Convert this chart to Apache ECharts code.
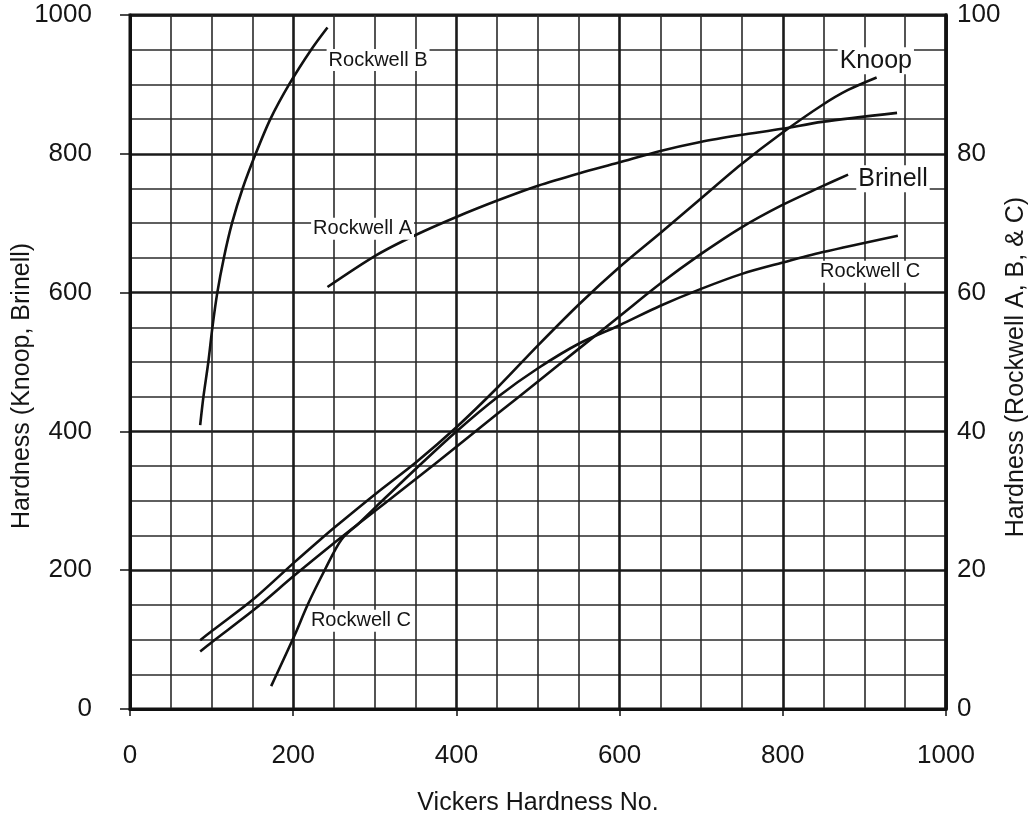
<!DOCTYPE html>
<html>
<head>
<meta charset="utf-8">
<script src="https://cdn.jsdelivr.net/npm/echarts@6/dist/echarts.min.js"></script>
<style>
  html, body { margin: 0; padding: 0; background: #ffffff; }
  #chart { width: 1030px; height: 819px; }
</style>
</head>
<body>
<div id="chart"></div>
<script>
// ---- Data ----
const xTicks = [0, 200, 400, 600, 800, 1000];

const vickersKnoop = [86, 101, 153, 202, 233, 252, 302, 351, 400, 451, 500, 551, 600, 650, 699, 748, 799, 848, 880, 915];
const knoop        = [99, 113, 160, 212, 244, 263, 311, 356, 406, 464, 524, 584, 637, 686, 735, 784, 830, 870, 892, 910];

const vickersBrinell = [86, 101, 153, 202, 252, 280, 351, 400, 451, 500, 551, 600, 650, 699, 748, 799, 848, 880];
const brinell        = [83, 97, 144, 193, 241, 267, 332, 378, 426, 472, 520, 566, 613, 655, 693, 726, 753, 770];

const vickersRA = [242, 302, 350, 400, 451, 500, 551, 598, 650, 699, 748, 799, 848, 940];
const rockwellA = [60.8, 65.4, 68.3, 70.9, 73.3, 75.4, 77.2, 78.7, 80.4, 81.7, 82.7, 83.6, 84.6, 85.9];

const vickersRB = [86, 90, 96, 101, 107, 115, 125, 138, 154, 172, 195, 222, 242];
const rockwellB = [40.9, 45, 50, 55, 60, 65, 70, 75, 80, 85, 90, 95, 98.2];

const vickersRC = [173, 202, 218, 239, 259, 280, 302, 351, 400, 451, 500, 551, 600, 650, 699, 750, 799, 848, 941];
const rockwellC = [3.3, 10.7, 15.1, 20.1, 24.4, 26.7, 29.2, 34.7, 40.0, 45.0, 49.1, 52.7, 55.3, 58.1, 60.5, 62.7, 64.3, 65.8, 68.2];

// curve annotations (in Vickers / left-axis units)
const noteText = ['Rockwell B', 'Rockwell A', 'Rockwell C', 'Rockwell C', 'Knoop', 'Brinell'];
const noteX    = [304, 285, 283, 907, 914, 935];
const noteY    = [935, 692, 127, 630, 934, 764];

// ---- Chart ----
const FONT = "'Liberation Sans', Arial, Helvetica, sans-serif";
const INK = '#111111';
const TXT = '#151515';
const pairs = (xs, ys) => xs.map((x, i) => [x, ys[i]]);

const lineSeries = (name, xs, ys, axis) => ({
  name, type: 'line', yAxisIndex: axis, data: pairs(xs, ys),
  smooth: 0.3, symbol: 'none', silent: true, z: 3,
  lineStyle: { color: INK, width: 2.6 }
});

const chart = echarts.init(document.getElementById('chart'), null, { renderer: 'canvas' });

chart.setOption({
  backgroundColor: '#ffffff',
  animation: false,
  textStyle: { fontFamily: FONT },
  grid: {
    left: 130, right: 84, top: 15, bottom: 110,
    containLabel: false, outerBoundsMode: 'none',
    show: true, borderColor: INK, borderWidth: 3, backgroundColor: 'transparent'
  },
  xAxis: {
    type: 'value', min: 0, max: 1000, interval: 200,
    name: 'Vickers Hardness No.', nameLocation: 'middle', nameGap: 82, nameMoveOverlap: false,
    nameTextStyle: { fontSize: 25, color: TXT, fontFamily: FONT },
    axisLine: { show: true, lineStyle: { color: INK, width: 3 } },
    axisTick: { show: true, inside: false, length: 7, lineStyle: { color: INK, width: 1.5 } },
    axisLabel: {
      fontSize: 26, color: TXT, margin: 34, fontFamily: FONT,
      formatter: v => xTicks.includes(v) ? String(v) : ''
    },
    splitLine: { show: true, lineStyle: { color: '#1a1a1a', width: 2.6 } },
    minorTick: { show: false, splitNumber: 4 },
    minorSplitLine: { show: true, lineStyle: { color: '#2a2a2a', width: 1.6 } }
  },
  yAxis: [
    {
      type: 'value', position: 'left', min: 0, max: 1000, interval: 200,
      name: 'Hardness (Knoop, Brinell)', nameLocation: 'middle', nameGap: 95, nameRotate: 90,
      nameMoveOverlap: false,
      nameTextStyle: { fontSize: 25, color: TXT, fontFamily: FONT, padding: [0, 48, 0, 0] },
      axisLine: { show: true, lineStyle: { color: INK, width: 3 } },
      axisTick: { show: true, inside: false, length: 10, lineStyle: { color: INK, width: 1.5 } },
      axisLabel: { fontSize: 26, color: TXT, margin: 38, fontFamily: FONT, formatter: v => String(v) },
      splitLine: { show: true, lineStyle: { color: '#1a1a1a', width: 2.6 } },
      minorTick: { show: false, splitNumber: 4 },
      minorSplitLine: { show: true, lineStyle: { color: '#2a2a2a', width: 1.6 } }
    },
    {
      type: 'value', position: 'right', min: 0, max: 100, interval: 20,
      name: 'Hardness (Rockwell A, B, & C)', nameLocation: 'middle', nameGap: 58, nameRotate: 90,
      nameMoveOverlap: false,
      nameTextStyle: { fontSize: 25, color: TXT, fontFamily: FONT, padding: [0, 10, 0, 0] },
      axisLine: { show: true, lineStyle: { color: INK, width: 3.5 } },
      axisTick: { show: false },
      axisLabel: { fontSize: 26, color: TXT, margin: 11, fontFamily: FONT, formatter: v => String(v) },
      splitLine: { show: false }
    }
  ],
  series: [
    lineSeries('Knoop', vickersKnoop, knoop, 0),
    lineSeries('Brinell', vickersBrinell, brinell, 0),
    lineSeries('Rockwell A', vickersRA, rockwellA, 1),
    lineSeries('Rockwell B', vickersRB, rockwellB, 1),
    lineSeries('Rockwell C', vickersRC, rockwellC, 1),
    {
      name: 'notes', type: 'scatter', yAxisIndex: 0, silent: true, z: 5,
      symbolSize: 0.01, itemStyle: { color: '#ffffff', opacity: 1 },
      data: noteText.map((t, i) => ({
        name: t, value: [noteX[i], noteY[i]],
        label: { fontSize: t.startsWith('Rockwell') ? 20 : 25, color: TXT, opacity: 1 }
      })),
      label: {
        show: true, position: 'inside', formatter: p => p.name,
        color: TXT, fontFamily: FONT, opacity: 1,
        backgroundColor: '#ffffff', padding: [1, 2]
      }
    }
  ]
});
</script>
</body>
</html>
